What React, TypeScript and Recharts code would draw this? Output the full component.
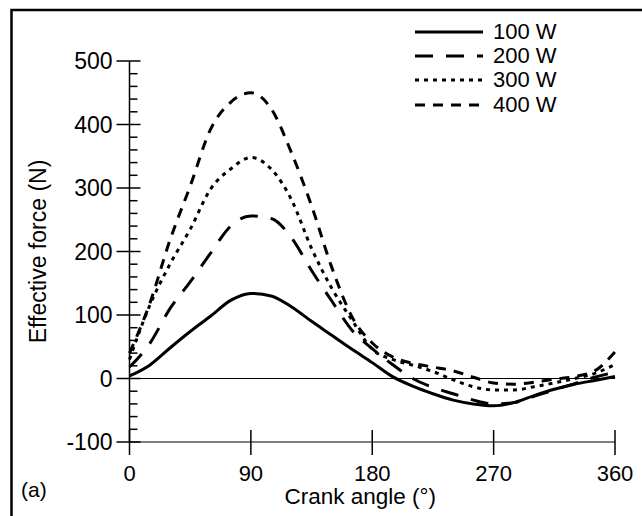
import { LineChart, Line, XAxis, YAxis, ReferenceLine, Legend, Label } from "recharts";

const angles = [0, 15, 30, 45, 60, 75, 90, 105, 120, 135, 150, 165, 180, 195, 210, 225, 240, 255, 270, 285, 300, 315, 330, 345, 360];
const w100 = [4, 21, 48, 74, 98, 123, 134, 130, 113, 90, 68, 46, 25, 3, -12, -24, -34, -40, -43, -38, -27, -17, -9, -3, 3];
const w200 = [18, 55, 110, 152, 197, 240, 256, 252, 222, 170, 122, 76, 47, 22, 0, -14, -24, -34, -40, -38, -28, -18, -8, 2, 10];
const w300 = [30, 115, 180, 235, 298, 330, 348, 330, 282, 205, 142, 92, 46, 30, 21, 11, -2, -13, -18, -18, -13, -7, 0, 8, 22];
const w400 = [40, 118, 218, 303, 392, 435, 450, 425, 356, 272, 175, 97, 56, 34, 24, 18, 12, 2, -7, -9, -6, -1, 3, 12, 42];

const xTicks = [0, 90, 180, 270, 360];
const yTicks = [-100, -80, -60, -40, -20, 0, 20, 40, 60, 80, 100, 120, 140, 160, 180, 200, 220, 240, 260, 280, 300, 320, 340, 360, 380, 400, 420, 440, 460, 480, 500];

const series = [
  { key: "w100", name: "100 W", dash: undefined },
  { key: "w200", name: "200 W", dash: "18 13" },
  { key: "w300", name: "300 W", dash: "4 5" },
  { key: "w400", name: "400 W", dash: "10 8" },
];

const data = angles.map((angle, i) => ({
  angle,
  w100: w100[i],
  w200: w200[i],
  w300: w300[i],
  w400: w400[i],
}));

const FONT = '"Liberation Sans", Arial, Helvetica, sans-serif';

function YTick({ x, y, payload }: any) {
  const major = payload.value % 100 === 0;
  return (
    <g>
      <line x1={major ? x - 13 : x} x2={major ? x + 11 : x + 8} y1={y} y2={y} stroke="#000" strokeWidth={1.5} />
      {major && (
        <text x={x - 17} y={y} dy="0.36em" textAnchor="end" fontSize={23} fontFamily={FONT} fill="#000">
          {payload.value}
        </text>
      )}
    </g>
  );
}

function XTick({ x, y, payload }: any) {
  return (
    <g>
      <line x1={x} x2={x} y1={y - 12} y2={y + 13} stroke="#000" strokeWidth={1.5} />
      <text x={x} y={y + 39} textAnchor="middle" fontSize={22} fontFamily={FONT} fill="#000">
        {payload.value}
      </text>
    </g>
  );
}

function LegendBox() {
  return (
    <div style={{ fontFamily: FONT, fontSize: 22, color: "#000" }}>
      {series.map((s) => (
        <div key={s.key} style={{ display: "flex", alignItems: "center", height: 24.3 }}>
          <svg width={68} height={10} style={{ marginRight: 10 }}>
            <line x1={0} x2={68} y1={5} y2={5} stroke="#000" strokeWidth={3} strokeDasharray={s.dash} />
          </svg>
          <span style={{ lineHeight: "24px" }}>{s.name}</span>
        </div>
      ))}
    </div>
  );
}

export default function App() {
  return (
    <div style={{ position: "absolute", left: 0, top: 0, width: 642, height: 516, background: "#fff", overflow: "hidden" }}>
      <svg width={642} height={516} style={{ position: "absolute", left: 0, top: 0 }}>
        <rect x={11.5} y={10} width={640} height={520} fill="none" stroke="#000" strokeWidth={2.5} />
        <text x={21} y={497} fontSize={21} fontFamily={FONT} fill="#000">(a)</text>
      </svg>
      <LineChart
        width={642}
        height={516}
        data={data}
        margin={{ top: 61, right: 27, bottom: 44, left: 29.5 }}
      >
        <XAxis
          dataKey="angle"
          type="number"
          domain={[0, 360]}
          ticks={xTicks}
          interval={0}
          height={30}
          tickSize={0}
          tickMargin={0}
          tickLine={false}
          axisLine={{ stroke: "#000", strokeWidth: 1.2 }}
          tick={<XTick />}
        >
          <Label
            content={({ viewBox }: any) => (
              <text
                x={viewBox.x + viewBox.width / 2 - 12}
                y={viewBox.y + 62}
                textAnchor="middle"
                fontSize={22.5}
                fontFamily={FONT}
                fill="#000"
              >
                Crank angle (°)
              </text>
            )}
          />
        </XAxis>
        <YAxis
          type="number"
          domain={[-100, 500]}
          ticks={yTicks}
          interval={0}
          width={100}
          tickSize={0}
          tickMargin={0}
          tickLine={false}
          axisLine={{ stroke: "#000", strokeWidth: 1.5 }}
          tick={<YTick />}
        >
          <Label
            content={({ viewBox }: any) => (
              <text
                x={viewBox.x + 8}
                y={viewBox.y + viewBox.height / 2}
                transform={`rotate(-90 ${viewBox.x + 8} ${viewBox.y + viewBox.height / 2})`}
                textAnchor="middle"
                dominantBaseline="central"
                fontSize={23}
                fontFamily={FONT}
                fill="#000"
              >
                Effective force (N)
              </text>
            )}
          />
        </YAxis>
        <ReferenceLine y={0} stroke="#000" strokeWidth={1} />
        <Legend
          layout="vertical"
          align="center"
          verticalAlign="middle"
          content={<LegendBox />}
          wrapperStyle={{ position: "absolute", left: 415, top: 19.5, width: 160, height: 100 }}
        />
        {series.map((s) => (
          <Line
            key={s.key}
            dataKey={s.key}
            name={s.name}
            type="monotone"
            stroke="#000"
            strokeWidth={3}
            strokeDasharray={s.dash}
            dot={false}
            activeDot={false}
            isAnimationActive={false}
          />
        ))}
      </LineChart>
    </div>
  );
}
